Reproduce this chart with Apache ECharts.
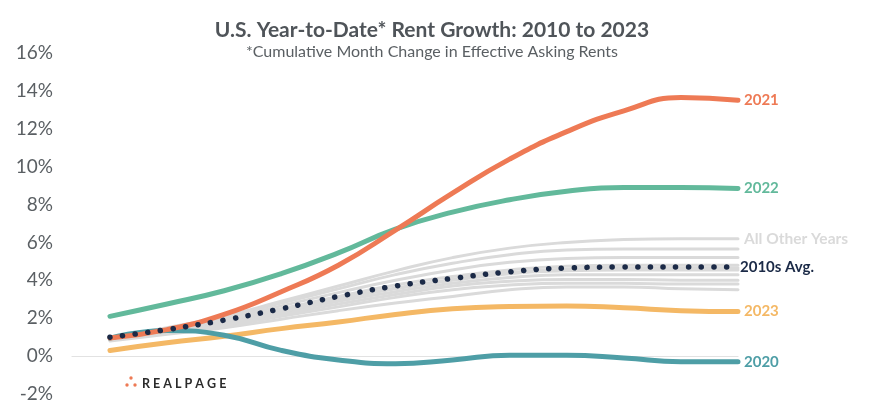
<!DOCTYPE html>
<html><head><meta charset="utf-8">
<script src="https://cdn.jsdelivr.net/npm/echarts@6/dist/echarts.min.js"></script>
<style>html,body{margin:0;padding:0;background:#fff}#c{width:870px;height:400px}</style>
</head><body><div id="c"></div>
<script>
const months = ['Jan','Feb','Mar','Apr','May','Jun','Jul','Aug','Sep','Oct','Nov','Dec'];
const yTicks = [-2,0,2,4,6,8,10,12,14,16];
const y2021 = [0.95,1.4,2.2,3.4,4.8,6.65,8.6,10.4,11.85,12.95,13.65,13.5];
const y2022 = [2.1,2.75,3.45,4.35,5.45,6.7,7.6,8.25,8.7,8.9,8.9,8.85];
const y2020 = [0.95,1.35,1.1,0.3,-0.2,-0.4,-0.2,0.05,0.05,-0.1,-0.3,-0.3];
const y2023 = [0.3,0.7,1.05,1.45,1.8,2.2,2.5,2.62,2.65,2.55,2.4,2.35];
const yAvg = [1.0,1.4,1.9,2.5,3.15,3.7,4.1,4.45,4.65,4.7,4.7,4.7];
const other1 = [1.0,1.5,2.1,2.9,3.7,4.5,5.2,5.7,6.0,6.15,6.2,6.2];
const other2 = [1.0,1.45,2.05,2.8,3.55,4.3,4.9,5.35,5.6,5.65,5.65,5.65];
const other3 = [0.95,1.4,1.95,2.65,3.35,4.0,4.55,4.95,5.15,5.2,5.2,5.2];
const other4 = [1.0,1.4,1.9,2.5,3.15,3.75,4.2,4.55,4.75,4.8,4.8,4.8];
const other5 = [1.0,1.35,1.85,2.45,3.05,3.6,4.05,4.4,4.6,4.65,4.65,4.65];
const other6 = [0.9,1.3,1.8,2.4,3.0,3.55,4.0,4.35,4.5,4.55,4.55,4.55];
const other7 = [0.9,1.3,1.75,2.3,2.9,3.4,3.85,4.15,4.3,4.3,4.3,4.3];
const other8 = [0.85,1.25,1.7,2.2,2.75,3.25,3.7,3.95,4.05,4.05,4.0,4.0];
const other9 = [0.85,1.2,1.6,2.1,2.6,3.1,3.5,3.75,3.85,3.85,3.8,3.8];
const other10 = [0.8,1.15,1.5,1.95,2.4,2.8,3.15,3.5,3.65,3.65,3.55,3.5];
const others = [other1,other2,other3,other4,other5,other6,other7,other8,other9,other10];

const toPts = arr => arr.map((v,i)=>[i,v]);
const FONT = 'Lato';
function lineSeries(name, data, color, width, labelColor, z, showLabel, dotted){
  return {
    type:'line', name, data: toPts(data), smooth:0.5, symbol:'none', z,
    lineStyle:{color, width, cap:'round', type: dotted ? [0.1,12.6] : 'solid'},
    emphasis:{disabled:true}, silent:true,
    endLabel:{show:showLabel, formatter:name, color:labelColor, fontFamily:FONT,
      fontSize:15, fontWeight: 'bold', distance: dotted?2:6}
  };
}
const series = [];
others.forEach((o,i)=>{
  series.push(lineSeries(i===0?'All Other Years':'Other '+(i+1), o, '#DADADA', 3, '#DADADA', 2, i===0, false));
});
series[0].endLabel.fontSize = 15.5;
series.push(lineSeries('2010s Avg.', yAvg, '#1B2A47', 5.5, '#1B2A47', 8, true, true));
series.push(lineSeries('2023', y2023, '#F4B865', 5, '#F4B865', 5, true, false));
series.push(lineSeries('2020', y2020, '#4E9EA6', 5, '#4E9EA6', 5, true, false));
series.push(lineSeries('2022', y2022, '#62B99B', 5, '#62B99B', 6, true, false));
series.push(lineSeries('2021', y2021, '#EE7A55', 5, '#EE7A55', 7, true, false));

const chart = echarts.init(document.getElementById('c'), null, {renderer:'canvas'});
chart.setOption({
  animation:false,
  backgroundColor:'#fff',
  title:{
    text:'U.S. Year-to-Date* Rent Growth: 2010 to 2023',
    subtext:'*Cumulative Month Change in Effective Asking Rents',
    left:427, textAlign:'center', top:15, itemGap:3,
    textStyle:{fontFamily:FONT, fontSize:21, fontWeight:'bold', color:'#4F5459'},
    subtextStyle:{fontFamily:FONT, fontSize:16, color:'#5A5F63'}
  },
  grid:{left:72, right:132, top:53, bottom:6, outerBoundsMode:'none', containLabel:false},
  xAxis:{type:'value', min:-0.665, max:months.length-1,
    axisLine:{show:true, onZero:true, lineStyle:{color:'#E2E2E2', width:1.2}},
    axisTick:{show:false}, axisLabel:{show:false}, splitLine:{show:false}},
  yAxis:{type:'value', min:yTicks[0], max:yTicks[yTicks.length-1], interval:2,
    axisLine:{show:false}, axisTick:{show:false}, splitLine:{show:false},
    axisLabel:{formatter:'{value}%', fontFamily:FONT, fontSize:19, color:'#5A5F63', margin:19}},
  graphic:[
    {type:'circle', shape:{cx:131, cy:378, r:1.7}, style:{fill:'#EE7A55'}},
    {type:'circle', shape:{cx:127, cy:385, r:1.7}, style:{fill:'#EE7A55'}},
    {type:'circle', shape:{cx:135, cy:385, r:1.7}, style:{fill:'#EE7A55'}},
    {type:'text', left:142, top:377, style:{text:'R E A L P A G E', font:'bold 12.5px Lato', fill:'#2B2B2B'}}
  ],
  series
});
</script></body></html>
